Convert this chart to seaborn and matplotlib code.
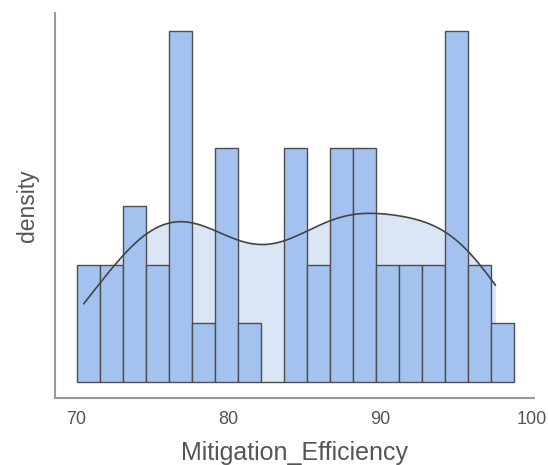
import numpy as np
import pandas as pd
import matplotlib
matplotlib.use("Agg")
import matplotlib.pyplot as plt
import seaborn as sns

# Histogram: 19 equal bins between these limits
bin_lo = 70.08
bin_hi = 98.79
bin_counts = [2, 2, 3, 2, 6, 1, 4, 1, 0, 4, 2, 4, 4, 2, 2, 2, 6, 2, 1]
# range covered by the density curve
kde_lo = 70.5
kde_hi = 97.6
x_ticks = [70, 80, 90, 100]

bin_edges = np.linspace(bin_lo, bin_hi, len(bin_counts) + 1)
bin_centers = (bin_edges[:-1] + bin_edges[1:]) / 2
df = pd.DataFrame({"Mitigation_Efficiency": bin_centers, "n": bin_counts})

sns.set_style("white")
plt.rcParams['font.family'] = ['Liberation Sans', 'DejaVu Sans']

fig, ax = plt.subplots(figsize=(5.48, 4.65), dpi=100)
fig.subplots_adjust(left=0.101, right=0.975, bottom=0.144, top=0.972)

sns.histplot(data=df, x="Mitigation_Efficiency", weights="n", bins=list(bin_edges),
             stat="density", kde=True,
             kde_kws=dict(bw_adjust=0.7, cut=3, clip=(kde_lo, kde_hi)),
             color="#a4c2f0", alpha=1, edgecolor="#4d4d4d", linewidth=1, ax=ax)

# density curve with a light fill behind the bars
kde_line = ax.lines[0]
kde_line.set_color("#444444")
kde_line.set_linewidth(1.2)
xs, ys = kde_line.get_data()
ax.fill_between(xs, 0, ys, color="#dae5f6", linewidth=0, zorder=0.5)

ymax = max(p.get_height() for p in ax.patches)
ax.set_ylim(-0.047 * ymax, 1.05 * ymax)
ax.set_xlim(68.64, 100.15)
ax.set_xticks(x_ticks)
ax.set_yticks([])
ax.tick_params(axis='x', length=4, width=1, color='#888888', labelcolor='#555555',
               labelsize=13, pad=5)
ax.set_xlabel("Mitigation_Efficiency", fontsize=18, color='#555555', labelpad=10)
ax.set_ylabel("density", fontsize=16.5, color='#555555', labelpad=12)

sns.despine(ax=ax)
for side in ['left', 'bottom']:
    ax.spines[side].set_color('#999999')
    ax.spines[side].set_linewidth(1.5)

plt.savefig("out.png", dpi=100)
